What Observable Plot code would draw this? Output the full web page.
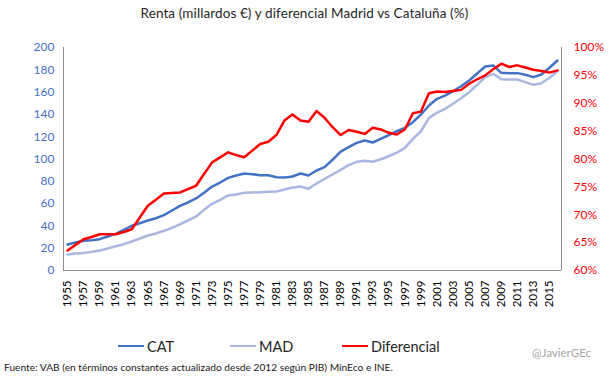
<!DOCTYPE html>
<html>
<head>
<meta charset="utf-8">
<script src="https://cdn.jsdelivr.net/npm/d3@7"></script>
<script src="https://cdn.jsdelivr.net/npm/@observablehq/plot@0.6"></script>
<style>
  body { margin: 0; background: #fff; font-family: Lato, "Open Sans", sans-serif; }
  #wrap { position: relative; width: 609px; height: 378px; overflow: hidden; background: #fff; }
  #chart { position: absolute; left: 0; top: 0; }
  #title { position: absolute; top: 5px; left: 0; width: 609px; text-align: center; font-size: 13.5px; letter-spacing: 0.1px; color: #262626; white-space: nowrap; }
  .leg { position: absolute; top: 337px; height: 18px; font-size: 14.5px; color: #262626; display: flex; align-items: center; white-space: nowrap; }
  .leg .sw { display: inline-block; width: 26px; height: 2.5px; margin-right: 3px; }
  #firma { position: absolute; left: 532px; top: 346px; font-size: 11.5px; color: #a6a6a6; white-space: nowrap; }
  #fuente { position: absolute; left: 4px; top: 361px; font-size: 10.2px; color: #1a1a1a; white-space: nowrap; }
</style>
</head>
<body>
<div id="wrap">
  <div id="chart"></div>
  <div id="title">Renta (millardos €) y diferencial Madrid vs Cataluña (%)</div>
  <div class="leg" style="left:118px"><span class="sw" style="background:#4472c4"></span>CAT</div>
  <div class="leg" style="left:230px"><span class="sw" style="background:#a9b7e1"></span>MAD</div>
  <div class="leg" style="left:342px"><span class="sw" style="background:#ff0000"></span>Diferencial</div>
  <div id="firma">@JavierGEc</div>
  <div id="fuente">Fuente: VAB (en términos constantes actualizado desde 2012 según PIB) MinEco e INE.</div>
</div>
<script>
const years = [1955,1956,1957,1958,1959,1960,1961,1962,1963,1964,1965,1966,1967,1968,1969,1970,
  1971,1972,1973,1974,1975,1976,1977,1978,1979,1980,1981,1982,1983,1984,1985,1986,
  1987,1988,1989,1990,1991,1992,1993,1994,1995,1996,1997,1998,1999,2000,2001,
  2002,2003,2004,2005,2006,2007,2008,2009,2010,2011,2012,2013,2014,2015,2016];

const cat = [23.3,25.1,26.6,27.2,28.1,30.5,32.9,36.5,40.1,42.4,44.8,46.9,49.6,53.8,58.0,61.0,
  64.6,69.7,75.3,78.9,83.1,85.2,87.0,86.4,85.5,85.5,83.7,83.4,84.3,87.0,85.2,89.7,
  92.7,99.3,106.7,110.6,114.5,116.6,114.8,118.1,121.4,124.9,128.0,133.0,139.9,148.0,154.0,
  156.9,160.8,165.3,170.4,176.7,182.9,183.9,177.3,177.0,177.0,175.5,173.4,175.8,181.8,188.3];

const mad = [14.3,15.2,15.8,16.7,17.9,19.7,21.8,23.6,26.0,28.7,31.4,33.2,35.6,38.3,41.3,45.0,
  48.4,54.4,59.8,63.4,67.3,68.2,69.7,70.0,70.2,70.6,70.9,72.6,74.4,75.3,73.3,78.0,
  82.2,86.1,90.3,94.5,97.5,98.4,97.5,99.8,102.5,105.6,110.0,118.1,124.9,136.9,141.5,
  145.0,149.5,154.5,159.9,166.5,173.4,176.4,171.6,171.3,171.3,168.9,166.5,168.0,172.8,178.8];

const diferencial = [63.6,64.6,65.6,66.0,66.5,66.5,66.5,66.9,67.4,69.5,71.6,72.7,73.8,73.9,74.0,74.6,
  75.2,77.3,79.4,80.3,81.2,80.7,80.3,81.5,82.7,83.1,84.3,86.9,88.0,86.9,86.7,88.6,
  87.4,85.7,84.3,85.2,84.9,84.5,85.6,85.3,84.7,84.4,85.3,88.2,88.5,91.8,92.1,
  92.0,92.2,92.4,93.5,94.3,95.0,96.1,97.1,96.5,96.8,96.4,96.0,95.8,95.5,95.9];

const leftTicks = [0,20,40,60,80,100,120,140,160,180,200];
const rightTicks = [60,65,70,75,80,85,90,95,100];
const xTicks = [1955,1957,1959,1961,1963,1965,1967,1969,1971,1973,1975,1977,1979,1981,1983,1985,
  1987,1989,1991,1993,1995,1997,1999,2001,2003,2005,2007,2009,2011,2013,2015];

// right axis (60%..100%) mapped onto left domain (0..200)
const toLeft = p => (p - 60) * 5;
const fromLeft = v => 60 + v / 5;

const rows = years.map((yr, i) => ({year: yr, cat: cat[i], mad: mad[i], dif: toLeft(diferencial[i])}));
const x0 = years[0] - 0.5, x1 = years[years.length - 1] + 0.5;

const chart = Plot.plot({
  width: 609,
  height: 378,
  marginTop: 47,
  marginBottom: 108,
  marginLeft: 63,
  marginRight: 48,
  style: {fontFamily: "Lato, 'Open Sans', sans-serif", background: "transparent"},
  x: {domain: [x0, x1]},
  y: {domain: [0, 200]},
  marks: [
    Plot.axisY({ticks: leftTicks, tickSize: 0, tickPadding: 9, fill: "#4472c4", fontSize: 12, label: null}),
    Plot.axisY({anchor: "right", ticks: rightTicks.map(toLeft), tickFormat: d => fromLeft(d) + "%",
      tickSize: 0, tickPadding: 12, fill: "#ff0000", fontSize: 12, label: null}),
    Plot.axisX({ticks: xTicks, tickFormat: d => String(d), tickRotate: -90, tickSize: 0, tickPadding: 10,
      fill: "#000", fontSize: 11.5, label: null}),
    Plot.ruleX([x0, x1], {stroke: "#8c8c8c", strokeWidth: 1}),
    Plot.ruleY([0], {stroke: "#8c8c8c", strokeWidth: 1}),
    Plot.line(rows, {x: "year", y: "mad", stroke: "#a9b7e1", strokeWidth: 2.5}),
    Plot.line(rows, {x: "year", y: "cat", stroke: "#4472c4", strokeWidth: 2.5}),
    Plot.line(rows, {x: "year", y: "dif", stroke: "#ff0000", strokeWidth: 2.5})
  ]
});
document.getElementById("chart").appendChild(chart);
</script>
</body>
</html>
